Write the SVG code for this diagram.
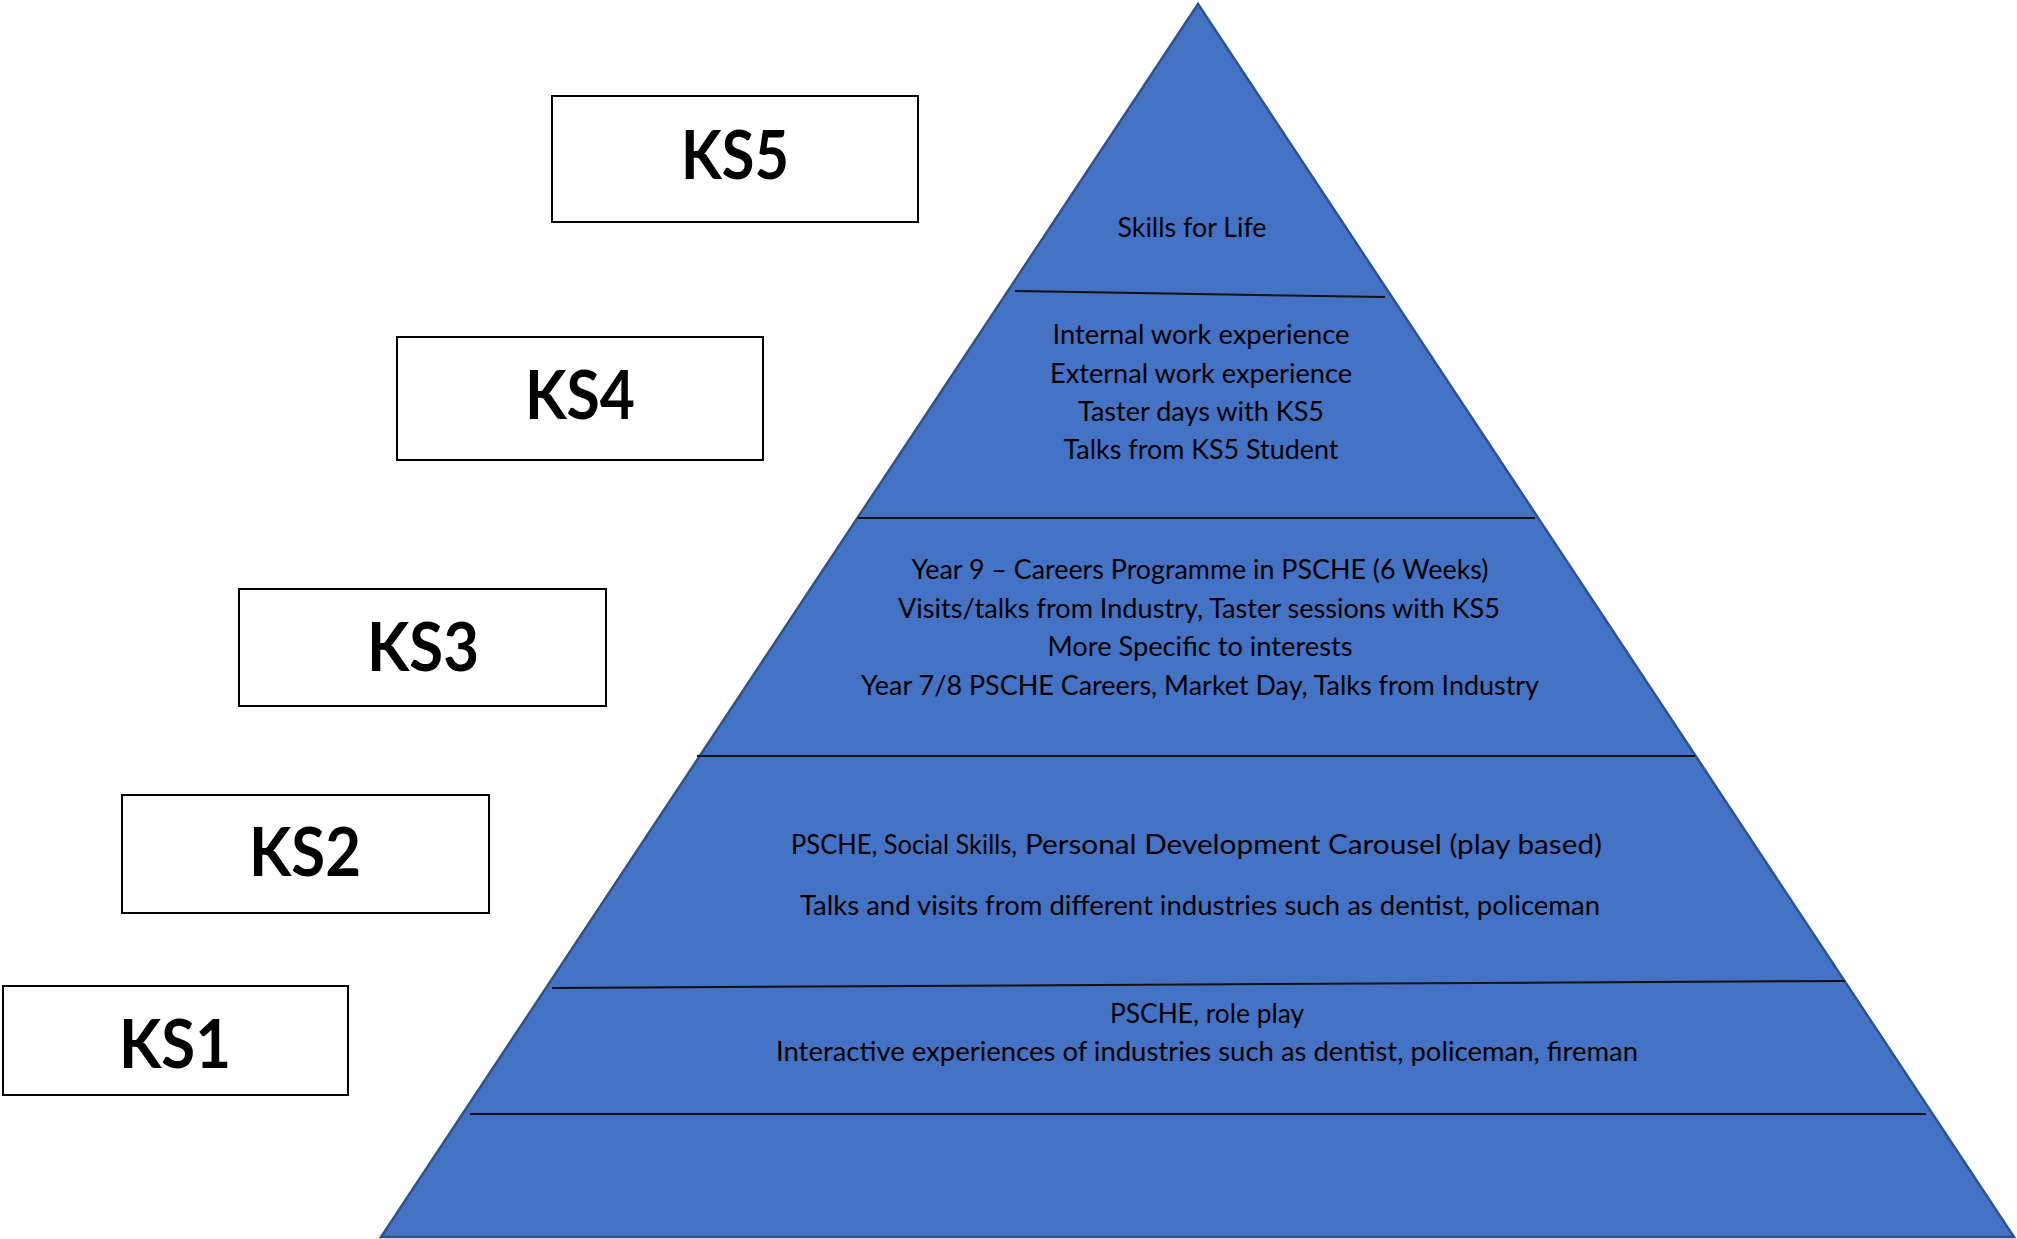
<svg xmlns="http://www.w3.org/2000/svg" width="2017" height="1239" viewBox="0 0 2017 1239">
<style>
.box{fill:#ffffff;stroke:#000000;stroke-width:2}
.lab{font-family:Lato,"Liberation Sans",sans-serif;font-weight:bold;font-size:67px;fill:#000;text-anchor:middle}
.t{font-family:Lato,"Liberation Sans",sans-serif;font-size:27px;fill:#000;text-anchor:middle}
.ts{font-family:Lato,"Liberation Sans",sans-serif;font-size:27px;fill:#000}
.div{stroke:#111111;stroke-width:2;fill:none}
</style>
<rect width="2017" height="1239" fill="#ffffff"/>
<g id="pyramid">
<polygon points="1198,4 2014,1237 381,1237" fill="#4472C4" stroke="#2F528F" stroke-width="2.5" stroke-linejoin="miter"/>
</g>
<g id="connectors">
<line class="div" x1="1015" y1="291" x2="1385" y2="297"/>
<line class="div" x1="858" y1="518" x2="1535" y2="518"/>
<line class="div" x1="697" y1="756" x2="1695" y2="756"/>
<line class="div" x1="552" y1="988" x2="1845" y2="981"/>
<line class="div" x1="470" y1="1114" x2="1926" y2="1114"/>
</g>
<g id="tier-ks5">
<text class="t" x="1192" y="237" textLength="149" lengthAdjust="spacingAndGlyphs">Skills for Life</text>
</g>
<g id="tier-ks4">
<text class="t" x="1201" y="344" textLength="297" lengthAdjust="spacingAndGlyphs">Internal work experience</text>
<text class="t" x="1201" y="383" textLength="302" lengthAdjust="spacingAndGlyphs">External work experience</text>
<text class="t" x="1201" y="421" textLength="246" lengthAdjust="spacingAndGlyphs">Taster days with KS5</text>
<text class="t" x="1201" y="459" textLength="275" lengthAdjust="spacingAndGlyphs">Talks from KS5 Student</text>
</g>
<g id="tier-ks3">
<text class="t" x="1200" y="579" textLength="577" lengthAdjust="spacingAndGlyphs">Year 9 – Careers Programme in PSCHE (6 Weeks)</text>
<text class="t" x="1199" y="618" textLength="602" lengthAdjust="spacingAndGlyphs">Visits/talks from Industry, Taster sessions with KS5</text>
<text class="t" x="1200" y="656" textLength="305" lengthAdjust="spacingAndGlyphs">More Specific to interests</text>
<text class="t" x="1200" y="695" textLength="678" lengthAdjust="spacingAndGlyphs">Year 7/8 PSCHE Careers, Market Day, Talks from Industry</text>
</g>
<g id="tier-ks2">
<text class="ts" x="791" y="854" textLength="226" lengthAdjust="spacingAndGlyphs">PSCHE, Social Skills,</text>
<text class="ts" x="1025" y="854" font-size="29" textLength="577" lengthAdjust="spacingAndGlyphs">Personal Development Carousel (play based)</text>
<text class="t" x="1200" y="915" textLength="800" lengthAdjust="spacingAndGlyphs">Talks and visits from different industries such as dentist, policeman</text>
</g>
<g id="tier-ks1">
<text class="t" x="1207" y="1023" textLength="194" lengthAdjust="spacingAndGlyphs">PSCHE, role play</text>
<text class="t" x="1207" y="1061" textLength="862" lengthAdjust="spacingAndGlyphs">Interactive experiences of industries such as dentist, policeman, fireman</text>
</g>
<g id="KS5">
<rect class="box" x="552" y="96" width="366" height="126"/>
<text class="lab" x="735" y="179" textLength="108" lengthAdjust="spacingAndGlyphs">KS5</text>
</g>
<g id="KS4">
<rect class="box" x="397" y="337" width="366" height="123"/>
<text class="lab" x="580" y="419" textLength="110" lengthAdjust="spacingAndGlyphs">KS4</text>
</g>
<g id="KS3">
<rect class="box" x="239" y="589" width="367" height="117"/>
<text class="lab" x="423" y="671" textLength="112" lengthAdjust="spacingAndGlyphs">KS3</text>
</g>
<g id="KS2">
<rect class="box" x="122" y="795" width="367" height="118"/>
<text class="lab" x="305" y="876" textLength="112" lengthAdjust="spacingAndGlyphs">KS2</text>
</g>
<g id="KS1">
<rect class="box" x="3" y="986" width="345" height="109"/>
<text class="lab" x="175" y="1068" textLength="112" lengthAdjust="spacingAndGlyphs">KS1</text>
</g>
</svg>
